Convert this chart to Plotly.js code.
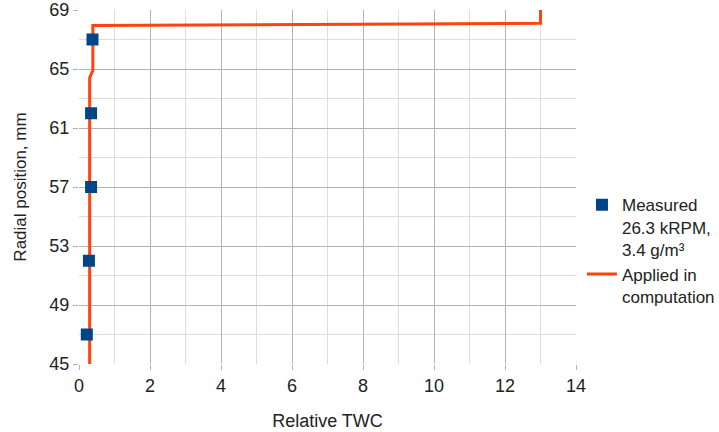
<!DOCTYPE html>
<html>
<head>
<meta charset="utf-8">
<script src="https://cdn.plot.ly/plotly-3.0.1.min.js"></script>
<style>html,body{margin:0;padding:0;background:#fff;}#chart{width:719px;height:432px;}</style>
</head>
<body>
<div id="chart"></div>
<script>
// Measured points
var measuredTWC = [0.22, 0.28, 0.34, 0.34, 0.38];
var measuredPos = [47, 52, 57, 62, 67];
// Profile applied in computation
var appliedTWC = [0.30, 0.30, 0.39, 0.39, 13.0, 13.0];
var appliedPos = [45, 64.4, 64.9, 67.95, 68.1, 69];

var xTicks = [0, 2, 4, 6, 8, 10, 12, 14];
var yTicks = [45, 49, 53, 57, 61, 65, 69];

var font = "'Liberation Sans', Arial, sans-serif";

var traces = [
  {
    x: appliedTWC, y: appliedPos, type: 'scatter', mode: 'lines',
    name: 'Applied in<br>computation',
    line: {color: '#ff420e', width: 3},
    cliponaxis: false
  },
  {
    x: measuredTWC, y: measuredPos, type: 'scatter', mode: 'markers',
    name: 'Measured<br>26.3 kRPM,<br>3.4 g/m³',
    marker: {symbol: 'square', size: 12, color: '#004586'},
    cliponaxis: false
  }
];

var layout = {
  width: 719, height: 432,
  margin: {l: 79, r: 143, t: 10, b: 68, autoexpand: false},
  paper_bgcolor: '#ffffff', plot_bgcolor: '#ffffff',
  font: {family: font, size: 17, color: '#222222'},
  showlegend: true,
  legend: {
    x: 1.012, xanchor: 'left', y: 0.32, yanchor: 'middle',
    font: {family: font, size: 17, color: '#222222'},
    traceorder: 'reversed',
    valign: 'top',
    tracegroupgap: 0,
    itemwidth: 30
  },
  xaxis: {
    range: [0, 14], tickvals: xTicks, ticktext: xTicks.map(String),
    showgrid: true, gridcolor: '#b3b3b3', gridwidth: 1,
    minor: {dtick: 1, tick0: 0, showgrid: true, gridcolor: '#dddddd', ticks: ''},
    zeroline: false, showline: false,
    ticks: 'outside', ticklen: 5, tickcolor: '#b3b3b3',
    tickfont: {family: font, size: 18, color: '#222222'},
    title: {text: 'Relative TWC', font: {family: font, size: 18, color: '#222222'}, standoff: 19},
    fixedrange: true
  },
  yaxis: {
    range: [45, 69], tickvals: yTicks, ticktext: yTicks.map(String),
    showgrid: true, gridcolor: '#b3b3b3', gridwidth: 1,
    minor: {dtick: 2, tick0: 45, showgrid: true, gridcolor: '#dddddd', ticks: ''},
    zeroline: false, showline: false,
    ticks: 'outside', ticklen: 5, tickcolor: '#b3b3b3',
    tickfont: {family: font, size: 18, color: '#222222'},
    title: {text: 'Radial position, mm', font: {family: font, size: 17, color: '#222222'}, standoff: 18},
    fixedrange: true
  }
};

Plotly.newPlot('chart', traces, layout, {displayModeBar: false, staticPlot: true});
</script>
</body>
</html>
